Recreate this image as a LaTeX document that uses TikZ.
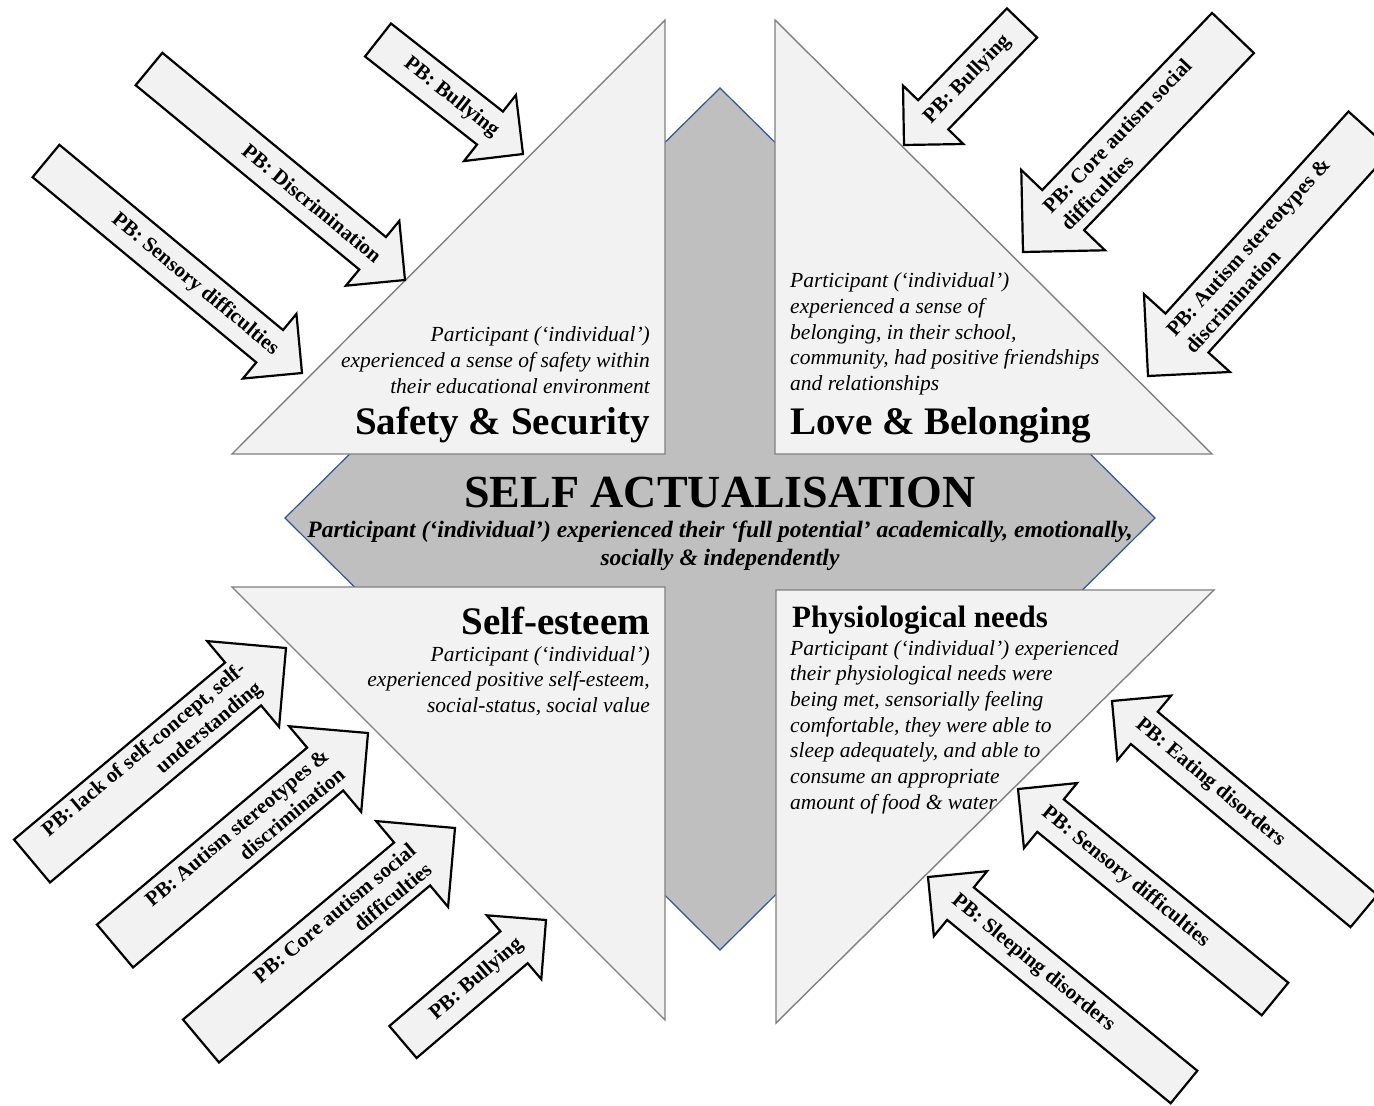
\documentclass[tikz,border=0pt]{standalone}
\usepackage{fontspec}
\setmainfont{Liberation Serif}
\usetikzlibrary{calc}

\definecolor{needfill}{HTML}{F2F2F2}
\definecolor{neededge}{HTML}{808080}
\definecolor{actfill}{HTML}{BFBFBF}
\definecolor{actedge}{HTML}{2F5597}

% block arrow: name, tail, tip, half shaft width, text style, text
\newcommand{\pbarrow}[6]{%
  \coordinate (#1-t) at #2;
  \coordinate (#1-p) at #3;
  \coordinate (#1-n) at ($(#1-p)!#4*2pt!(#1-t)$);
  \coordinate (#1-a) at ($(#1-p)!#4*1.6pt!(#1-t)$);
  \draw[pbshape] ($(#1-t)!#4pt!90:(#1-p)$) -- ($(#1-n)!#4pt!90:(#1-p)$)
    -- ($(#1-n)!#4*2pt!90:(#1-p)$) -- (#1-p)
    -- ($(#1-n)!#4*2pt!-90:(#1-p)$) -- ($(#1-n)!#4pt!-90:(#1-p)$)
    -- ($(#1-t)!#4pt!-90:(#1-p)$) -- cycle;
  \path (#1-t) -- (#1-a) node[pbtext, sloped, pos=1, #5] (#1) {#6};
}

\begin{document}
\begin{tikzpicture}[x=1pt, y=-1pt,
  need/.style={fill=needfill, draw=neededge, line width=1.4pt},
  selfact/.style={fill=actfill, draw=actedge, line width=1.2pt},
  pbshape/.style={fill=needfill, draw=black, line width=2.2pt, line join=miter},
  pbtext/.style={font=\bfseries\fontsize{21}{25}\selectfont, inner sep=0pt},
  pbright/.style={anchor=east, align=right},
  pbleft/.style={anchor=west, align=left},
  needtitle/.style={font=\bfseries\fontsize{39}{44}\selectfont, inner sep=0pt},
  needdesc/.style={font=\itshape\fontsize{21.5}{25.7}\selectfont, inner sep=0pt}]
  \path[use as bounding box, fill=white] (0,0) rectangle (1374,1106);

  % self actualisation diamond
  \draw[selfact] (720,88) -- (1155,518) -- (720,950) -- (285,518) -- cycle;

  % the four needs
  \draw[need] (665,20) -- (665,454) -- (232,454) -- cycle;
  \draw[need] (775,20) -- (775,454) -- (1212,454) -- cycle;
  \draw[need] (232,587) -- (665,587) -- (665,1020) -- cycle;
  \draw[need] (776,590) -- (1214,590) -- (776,1023) -- cycle;

  % safety & security
  \node[needdesc, align=right, anchor=east] (safety-txt) at (650,360)
    {Participant (‘individual’)\\experienced a sense of safety within\\their educational environment};
  \node[needtitle, anchor=east] (safety) at (650,425) {Safety \& Security};

  % love & belonging
  \node[needdesc, align=left, anchor=west] (love-txt) at (790,334)
    {Participant (‘individual’)\\experienced a sense of\\belonging, in their school,\\community, had positive friendships\\and relationships};
  \node[needtitle, anchor=west] (love) at (790,425) {Love \& Belonging};

  % self-esteem
  \node[needtitle, anchor=east] (esteem) at (650,621) {Self-esteem};
  \node[needdesc, align=right, anchor=east] (esteem-txt) at (650,681)
    {Participant (‘individual’)\\experienced positive self-esteem,\\social-status, social value};

  % physiological needs
  \node[needtitle, font=\bfseries\fontsize{31}{36}\selectfont, anchor=west] (physio) at (792,620)
    {Physiological needs};
  \begin{scope}
    \clip (776,590) -- (1214,590) -- (776,1023) -- cycle;
    \node[needdesc, align=left, anchor=west] (physio-txt) at (790,727)
      {Participant (‘individual’) experienced\\their physiological needs were\\being met, sensorially feeling\\comfortable, they were able to\\sleep adequately, and able to\\consume an appropriate\\amount of food \& water};
  \end{scope}

  % centre
  \node[font=\bfseries\fontsize{46}{50}\selectfont, inner sep=0pt] (selfact) at (720,492)
    {SELF ACTUALISATION};
  \node[font=\bfseries\itshape\fontsize{23.5}{28}\selectfont, align=center, inner sep=0pt]
    (selfact-txt) at (720,546)
    {Participant (‘individual’) experienced their ‘full potential’ academically, emotionally,\\socially \& independently};

  % barriers, top left
  \pbarrow{tl1}{(46,161)}{(302,373)}{21}{pbright}{PB: Sensory difficulties}
  \pbarrow{tl2}{(149,69)}{(405,280)}{21}{pbright}{PB: Discrimination}
  \pbarrow{tl3}{(378,40)}{(523,154)}{21}{pbright}{PB: Bullying}
  % barriers, top right
  \pbarrow{tr1}{(1022,23)}{(904,145)}{21}{pbleft}{PB: Bullying}
  \pbarrow{tr2}{(1233,33)}{(1023,252)}{29}{pbleft}{PB: Core autism social\\difficulties}
  \pbarrow{tr3}{(1370,131)}{(1148,376)}{29}{pbleft}{PB: Autism stereotypes \&\\discrimination}
  % barriers, bottom left
  \pbarrow{bl1}{(32,861)}{(286,648)}{28}{pbright}{PB: lack of self-concept, self-\\understanding}
  \pbarrow{bl2}{(115,946)}{(368,733)}{28}{pbright}{PB: Autism stereotypes \&\\discrimination}
  \pbarrow{bl3}{(201,1041)}{(455,828)}{28}{pbright}{PB: Core autism social\\difficulties}
  \pbarrow{bl4}{(403,1042)}{(546,920)}{21}{pbright}{PB: Bullying}
  % barriers, bottom right
  \pbarrow{br1}{(1364,911)}{(1112,701)}{21}{pbleft}{PB: Eating disorders}
  \pbarrow{br2}{(1275,999)}{(1018,789)}{21}{pbleft}{PB: Sensory difficulties}
  \pbarrow{br3}{(1184,1087)}{(928,877)}{21}{pbleft}{PB: Sleeping disorders}
\end{tikzpicture}
\end{document}
